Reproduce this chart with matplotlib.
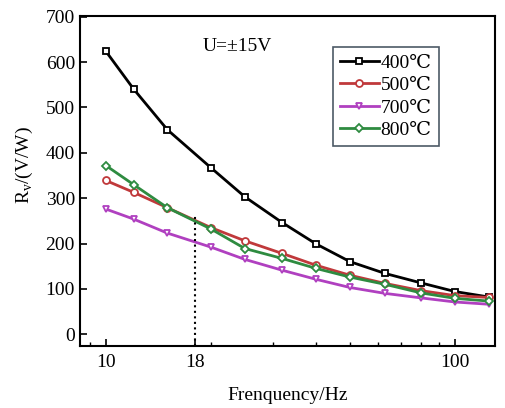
import matplotlib
matplotlib.use("Agg")
import matplotlib.pyplot as plt
from matplotlib.ticker import FixedLocator, NullFormatter

freq = [10, 12, 15, 20, 25, 32, 40, 50, 63, 80, 100, 125]
r400 = [624, 541, 451, 367, 303, 246, 199, 160, 134, 113, 94, 82]
r500 = [339, 313, 279, 235, 206, 178, 152, 130, 112, 96, 85, 81]
r700 = [276, 254, 223, 192, 165, 141, 121, 103, 90, 80, 71, 66]
r800 = [372, 330, 279, 232, 189, 167, 145, 126, 110, 91, 79, 73]
labels = ["400℃", "500℃", "700℃", "800℃"]
marker_freq = 18
marker_top = 260

plt.rcParams['font.family'] = ['Liberation Serif', 'DejaVu Serif']
fig = plt.figure(figsize=(5.05, 4.08), dpi=100)
ax = fig.add_axes([0.158, 0.152, 0.822, 0.809])

series = [(r400, 'black', 's'), (r500, '#c0393b', 'o'), (r700, '#b040c0', 'v'), (r800, '#2e8b40', 'D')]
for (vals, col, mk), lab in zip(series, labels):
    ax.plot(freq, vals, color=col, lw=2, marker=mk, markersize=5 if mk != 'D' else 4.5,
            markerfacecolor='white', markeredgecolor=col, markeredgewidth=1.3, label=lab)

ax.plot([marker_freq, marker_freq], [-26, marker_top], color='black', ls=':', lw=1.5)

ax.set_xscale('log')
ax.set_xlim(8.42, 130)
ax.set_ylim(-26, 702)
ax.xaxis.set_major_locator(FixedLocator([10, 18, 100]))
ax.set_xticklabels(['10', '18', '100'])
ax.xaxis.set_minor_locator(FixedLocator([9, 20, 30, 40, 50, 60, 70, 80, 90]))
ax.xaxis.set_minor_formatter(NullFormatter())
ax.set_yticks(range(0, 701, 100))
ax.tick_params(direction='in', labelsize=14, length=5, width=1.2)
ax.tick_params(axis='x', pad=6)
ax.tick_params(which='minor', direction='in', length=3, width=1)
for s in ax.spines.values():
    s.set_linewidth(1.5)

ax.set_xlabel('Frenquency/Hz', fontsize=14, labelpad=11)
ax.set_ylabel(r'R$_\mathregular{v}$/(V/W)', fontsize=14)
ax.yaxis.set_label_coords(-0.108, 0.55)
ax.text(0.295, 0.895, 'U=±15V', transform=ax.transAxes, fontsize=14)

leg = ax.legend(loc='upper left', bbox_to_anchor=(0.61, 0.905), fontsize=14, frameon=True,
                fancybox=False, edgecolor='#203040', handlelength=2.0, handletextpad=0.1,
                borderpad=0.35, labelspacing=0.25, borderaxespad=0)
leg.get_frame().set_linewidth(1.2)

fig.savefig('out.png', dpi=100)
